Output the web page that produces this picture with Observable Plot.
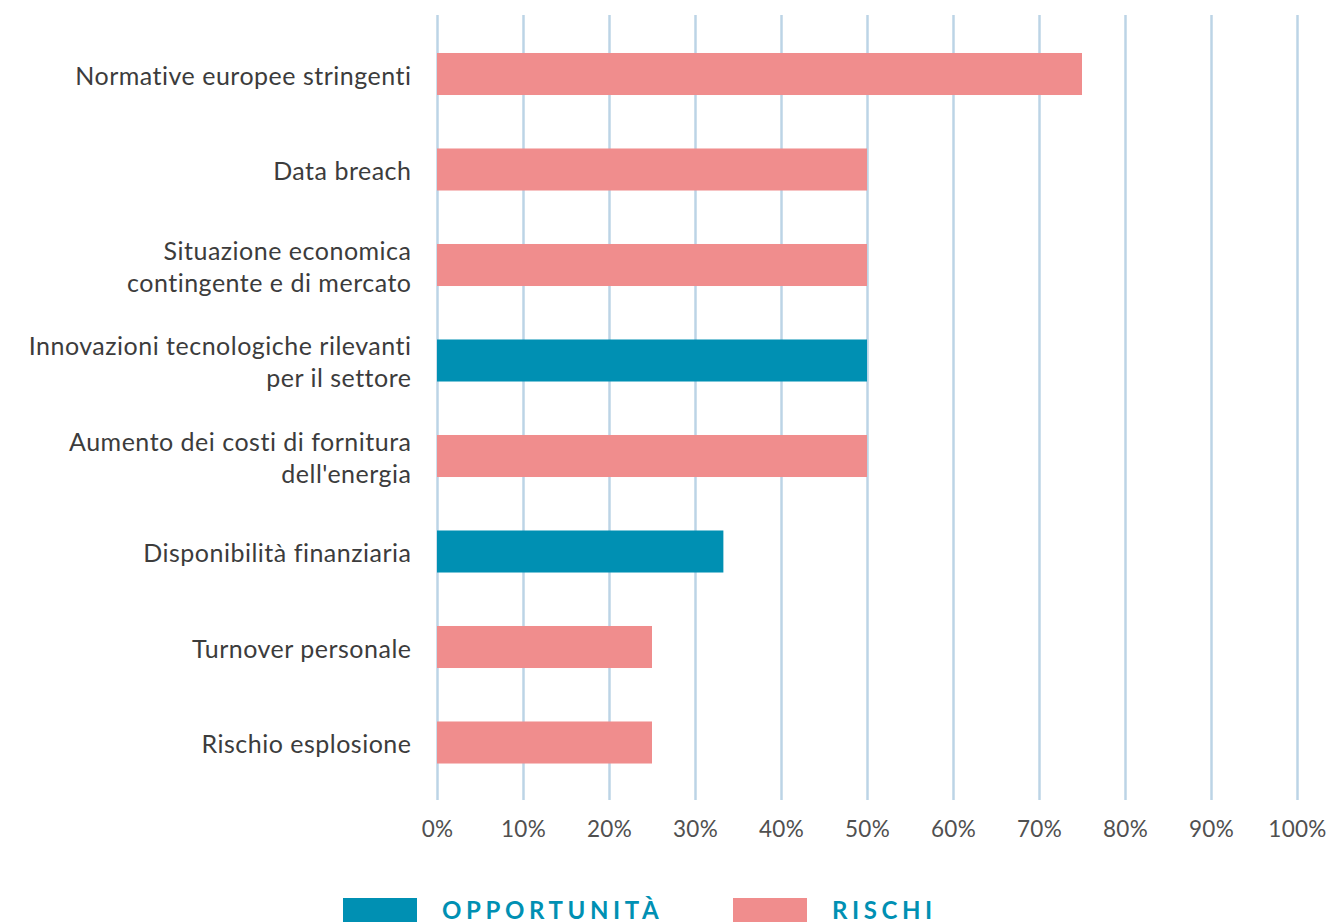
<!DOCTYPE html>
<html>
<head>
<meta charset="utf-8">
<script src="https://cdn.jsdelivr.net/npm/d3@7"></script>
<script src="https://cdn.jsdelivr.net/npm/@observablehq/plot@0.6"></script>
<style>
  html, body { margin: 0; padding: 0; background: #fff; }
  body { width: 1334px; height: 922px; overflow: hidden; font-family: Lato, "Noto Sans", sans-serif; }
  #legend { position: absolute; left: 0; top: 897px; width: 1334px; height: 25px; }
  .sw { position: absolute; top: 1px; width: 74px; height: 24px; }
  .lab { position: absolute; top: -2px; font-weight: 700; font-size: 24px; letter-spacing: 4.6px; color: #0090B3; }
  svg text { font-variant-ligatures: none; }
  svg g[aria-label="y-axis tick label"] { letter-spacing: 0.5px; }
  svg g[aria-label="x-axis tick label"] { letter-spacing: 0.3px; }
</style>
</head>
<body>
<div id="chart"></div>
<div id="legend">
  <div class="sw" style="left:343px;background:#0090B3"></div>
  <div class="lab" style="left:442px">OPPORTUNITÀ</div>
  <div class="sw" style="left:733px;background:#F08D8D"></div>
  <div class="lab" style="left:832px">RISCHI</div>
</div>
<script>
const categories = [
  "Normative europee stringenti",
  "Data breach",
  "Situazione economica\ncontingente e di mercato",
  "Innovazioni tecnologiche rilevanti\nper il settore",
  "Aumento dei costi di fornitura\ndell'energia",
  "Disponibilità finanziaria",
  "Turnover personale",
  "Rischio esplosione"
];
const values = [75, 50, 50, 50, 50, 33.3, 25, 25];
const types = ["RISCHI", "RISCHI", "RISCHI", "OPPORTUNITÀ", "RISCHI", "OPPORTUNITÀ", "RISCHI", "RISCHI"];
const seriesNames = ["OPPORTUNITÀ", "RISCHI"];
const seriesColors = ["#0090B3", "#F08D8D"];
const xTicks = [0, 10, 20, 30, 40, 50, 60, 70, 80, 90, 100];

const data = categories.map((c, i) => ({category: c, value: values[i], type: types[i]}));

const chart = Plot.plot({
  width: 1334,
  height: 860,
  marginTop: 15,
  marginBottom: 60,
  marginLeft: 437,
  marginRight: 37,
  style: {fontFamily: "Lato, 'Noto Sans', sans-serif", background: "#fff"},
  x: {domain: [0, 100]},
  y: {domain: categories, round: false, paddingInner: 0.56, paddingOuter: 0.28, insetTop: 11.25, insetBottom: 9.75},
  color: {domain: seriesNames, range: seriesColors},
  marks: [
    Plot.ruleX(xTicks, {stroke: "#BCD4E6", strokeWidth: 2.5}),
    Plot.barX(data, {x: "value", y: "category", fill: "type"}),
    Plot.axisY({tickSize: 0, tickPadding: 26, fontSize: 25, lineHeight: 1.28, color: "#3c3c3c", label: null}),
    Plot.axisX({ticks: xTicks, tickSize: 0, tickPadding: 21, fontSize: 22.5, color: "#505050", tickFormat: d => d + "%", label: null})
  ]
});
document.getElementById("chart").appendChild(chart);
</script>
</body>
</html>
